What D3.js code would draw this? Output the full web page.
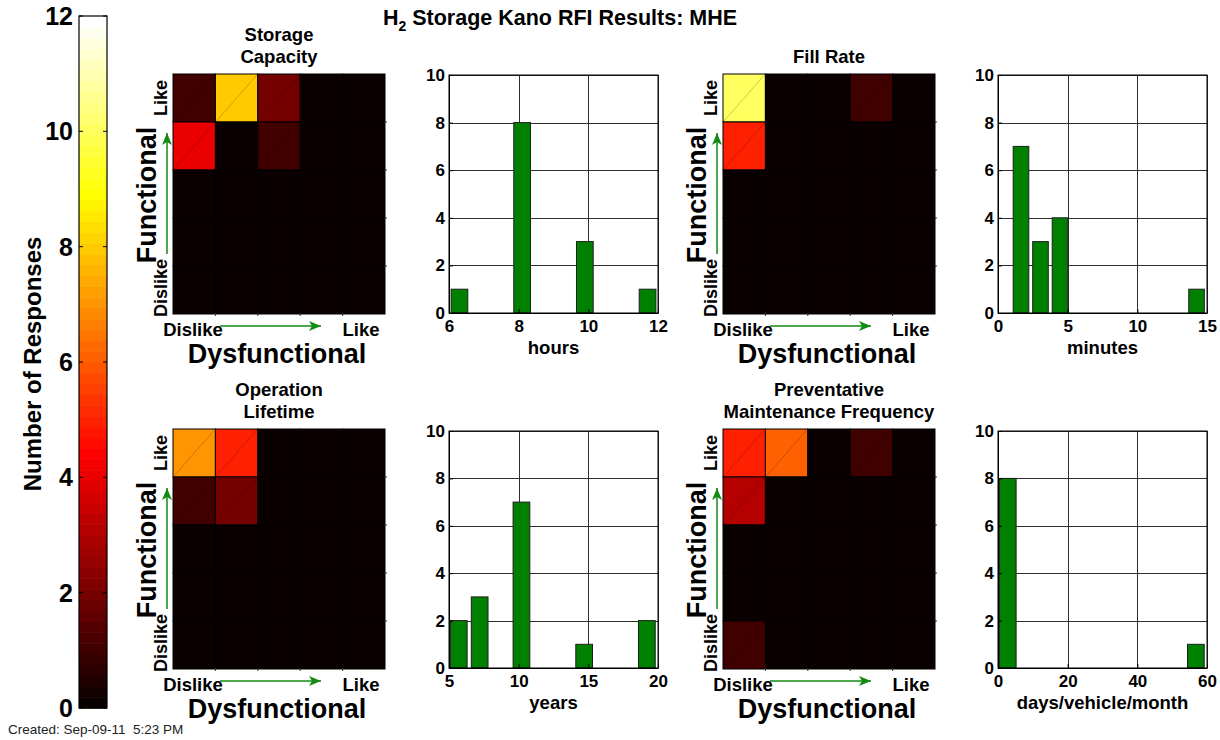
<!DOCTYPE html>
<html><head><meta charset="utf-8">
<script src="https://cdn.jsdelivr.net/npm/d3@7"></script>
<style>
body{margin:0;background:#fff;}
svg{font-family:"Liberation Sans",Arial,Helvetica,sans-serif;}
</style>
</head><body>
<svg id="chart" width="1220" height="740"></svg>
<script>
// ---------------- DATA ----------------
const functionalLevels = ["Like", "2", "3", "4", "Dislike"];      // rows, top -> bottom
const dysfunctionalLevels = ["Dislike", "2", "3", "4", "Like"];   // columns, left -> right

const storageCapacityGrid = [
  [1, 8, 2, 0, 0],
  [4, 0, 1, 0, 0],
  [0, 0, 0, 0, 0],
  [0, 0, 0, 0, 0],
  [0, 0, 0, 0, 0]
];
const fillRateGrid = [
  [10, 0, 0, 1, 0],
  [5, 0, 0, 0, 0],
  [0, 0, 0, 0, 0],
  [0, 0, 0, 0, 0],
  [0, 0, 0, 0, 0]
];
const operationLifetimeGrid = [
  [7, 5, 0, 0, 0],
  [1, 2, 0, 0, 0],
  [0, 0, 0, 0, 0],
  [0, 0, 0, 0, 0],
  [0, 0, 0, 0, 0]
];
const maintenanceFrequencyGrid = [
  [5, 6, 0, 1, 0],
  [3, 0, 0, 0, 0],
  [0, 0, 0, 0, 0],
  [0, 0, 0, 0, 0],
  [1, 0, 0, 0, 0]
];

const hoursBins   = [6.3, 6.9, 7.5, 8.1, 8.7, 9.3, 9.9, 10.5, 11.1, 11.7];
const hoursCounts = [1, 0, 0, 8, 0, 0, 3, 0, 0, 1];
const hoursTicks  = [6, 8, 10, 12];

const minutesBins   = [1.65, 3.05, 4.45, 5.85, 7.25, 8.65, 10.05, 11.45, 12.85, 14.25];
const minutesCounts = [7, 3, 4, 0, 0, 0, 0, 0, 0, 1];
const minutesTicks  = [0, 5, 10, 15];

const yearsBins   = [5.7, 7.2, 8.7, 10.2, 11.7, 13.2, 14.7, 16.2, 17.7, 19.2];
const yearsCounts = [2, 3, 0, 7, 0, 0, 1, 0, 0, 2];
const yearsTicks  = [5, 10, 15, 20];

const daysBins   = [2.8, 8.8, 14.8, 20.8, 26.8, 32.8, 38.8, 44.8, 50.8, 56.8];
const daysCounts = [8, 0, 0, 0, 0, 0, 0, 0, 0, 1];
const daysTicks  = [0, 20, 40, 60];

const countTicks = [0, 2, 4, 6, 8, 10];
const colorbarTicks = [0, 2, 4, 6, 8, 10, 12];
const colorMax = 12;

// ---------------- HELPERS ----------------
const svg = d3.select("#chart");
const FONT = "'Liberation Sans', Arial, Helvetica, sans-serif";

// MATLAB hot(64) colormap lookup, scaled to [0, colorMax]
function hotIndex(v) { return Math.max(0, Math.min(63, Math.floor(v / colorMax * 64))); }
function hotByIndex(k) {
  const r = k < 24 ? (k + 1) / 24 : 1;
  const g = k < 24 ? 0 : (k < 48 ? (k - 23) / 24 : 1);
  const b = k < 48 ? 0 : (k - 47) / 16;
  return d3.rgb(Math.round(r * 255), Math.round(g * 255), Math.round(b * 255));
}
function hotColor(v) { return hotByIndex(hotIndex(v)); }

const defs = svg.append("defs");
defs.append("marker").attr("id", "arrowG")
  .attr("viewBox", "0 0 12 10").attr("refX", 12).attr("refY", 5)
  .attr("markerUnits", "userSpaceOnUse").attr("markerWidth", 13).attr("markerHeight", 10)
  .attr("orient", "auto")
  .append("path").attr("d", "M0,0 L12,5 L0,10 L3,5 Z").attr("fill", "#138a13");

// ---------------- TITLE ----------------
const title = svg.append("text").attr("x", 560).attr("y", 25)
  .attr("text-anchor", "middle").attr("font-weight", "bold").attr("font-size", 21.5);
title.append("tspan").text("H");
title.append("tspan").attr("font-size", 14).attr("dy", 6).text("2");
title.append("tspan").attr("dy", -6).text(" Storage Kano RFI Results: MHE");

// ---------------- COLORBAR ----------------
const cb = { x: 79, w: 28, top: 16, bottom: 708 };
const cy = d3.scaleLinear().domain([0, colorMax]).range([cb.bottom, cb.top]);
const cbG = svg.append("g");
cbG.selectAll("rect.band").data(d3.range(64)).join("rect")
  .attr("x", cb.x).attr("width", cb.w)
  .attr("y", k => cy((k + 1) * colorMax / 64))
  .attr("height", k => cy(k * colorMax / 64) - cy((k + 1) * colorMax / 64) + 0.6)
  .attr("fill", k => hotByIndex(k));
cbG.append("rect").attr("x", cb.x).attr("y", cb.top).attr("width", cb.w)
  .attr("height", cb.bottom - cb.top).attr("fill", "none").attr("stroke", "#000").attr("stroke-width", 1.2);
cbG.selectAll("line.tl").data(colorbarTicks).join("line")
  .attr("x1", cb.x).attr("x2", cb.x + 4).attr("y1", d => cy(d)).attr("y2", d => cy(d)).attr("stroke", "#000");
cbG.selectAll("line.tr").data(colorbarTicks).join("line")
  .attr("x1", cb.x + cb.w - 4).attr("x2", cb.x + cb.w).attr("y1", d => cy(d)).attr("y2", d => cy(d)).attr("stroke", "#000");
cbG.selectAll("text.tk").data(colorbarTicks).join("text")
  .attr("x", 73).attr("y", d => cy(d)).attr("dy", "0.36em")
  .attr("text-anchor", "end").attr("font-weight", "bold").attr("font-size", 25).text(d => d);
svg.append("text").attr("transform", "translate(32,364) rotate(-90)")
  .attr("text-anchor", "middle").attr("dy", "0.36em")
  .attr("font-weight", "bold").attr("font-size", 24).text("Number of Responses");

svg.append("text").attr("x", 8).attr("y", 734).attr("font-size", 13.5).attr("fill", "#222")
  .text("Created: Sep-09-11\u00a0\u00a05:23 PM");

// ---------------- HEATMAP PANELS ----------------
function heatPanel(cfg) {
  const g = svg.append("g");
  const L = cfg.x, T = cfg.y;
  const xb = d3.scaleBand().domain(d3.range(dysfunctionalLevels.length)).range([L, L + cfg.w]);
  const yb = d3.scaleBand().domain(d3.range(functionalLevels.length)).range([T, T + cfg.h]);
  const cells = [];
  cfg.grid.forEach((row, r) => row.forEach((v, c) => cells.push({ r, c, v })));
  g.selectAll("rect.cell").data(cells).join("rect")
    .attr("x", d => xb(d.c)).attr("y", d => yb(d.r))
    .attr("width", xb.bandwidth()).attr("height", yb.bandwidth())
    .attr("fill", d => hotColor(d.v)).attr("stroke", "#000").attr("stroke-width", 1);
  g.selectAll("line.diag").data(cells.filter(d => d.v > 0)).join("line")
    .attr("x1", d => xb(d.c) + 1).attr("y1", d => yb(d.r) + yb.bandwidth() - 1)
    .attr("x2", d => xb(d.c) + xb.bandwidth() - 1).attr("y2", d => yb(d.r) + 1)
    .attr("stroke", d => hotColor(d.v).darker(1.2)).attr("stroke-width", 0.7).attr("opacity", 0.8);
  // small edge ticks
  g.selectAll("line.rt").data(d3.range(1, 5)).join("line")
    .attr("x1", L + cfg.w - 1).attr("x2", L + cfg.w + 2)
    .attr("y1", i => yb(i)).attr("y2", i => yb(i)).attr("stroke", "#333");
  g.selectAll("line.bt").data(d3.range(1, 5)).join("line")
    .attr("y1", T + cfg.h - 1).attr("y2", T + cfg.h + 2)
    .attr("x1", i => xb(i)).attr("x2", i => xb(i)).attr("stroke", "#333");
  // title
  const n = cfg.title.length;
  cfg.title.forEach((t, i) => {
    g.append("text").attr("x", L + cfg.w / 2).attr("y", T - 18 - (n - 1 - i) * 22)
      .attr("dy", "0.36em").attr("text-anchor", "middle")
      .attr("font-weight", "bold").attr("font-size", 18.5).text(t);
  });
  // axis labels
  g.append("text").attr("x", L + 20).attr("y", T + 255).attr("dy", "0.36em")
    .attr("text-anchor", "middle").attr("font-weight", "bold").attr("font-size", 18.5)
    .text(dysfunctionalLevels[0]);
  g.append("text").attr("x", L + 188).attr("y", T + 255).attr("dy", "0.36em")
    .attr("text-anchor", "middle").attr("font-weight", "bold").attr("font-size", 18.5)
    .text(dysfunctionalLevels[4]);
  g.append("text").attr("x", L + cfg.w / 2 - 2).attr("y", T + 279).attr("dy", "0.36em")
    .attr("text-anchor", "middle").attr("font-weight", "bold").attr("font-size", 27)
    .text("Dysfunctional");
  g.append("text").attr("transform", `translate(${L - 12},${T + 24}) rotate(-90)`)
    .attr("dy", "0.36em").attr("text-anchor", "middle").attr("font-weight", "bold")
    .attr("font-size", 18).text(functionalLevels[0]);
  g.append("text").attr("transform", `translate(${L - 12},${T + 214}) rotate(-90)`)
    .attr("dy", "0.36em").attr("text-anchor", "middle").attr("font-weight", "bold")
    .attr("font-size", 18).text(functionalLevels[4]);
  g.append("text").attr("transform", `translate(${L - 27},${T + 121}) rotate(-90)`)
    .attr("dy", "0.36em").attr("text-anchor", "middle").attr("font-weight", "bold")
    .attr("font-size", 27).text("Functional");
  // arrows
  g.append("line").attr("x1", L + 47).attr("x2", L + 148).attr("y1", T + 252).attr("y2", T + 252)
    .attr("stroke", "#138a13").attr("stroke-width", 1.5).attr("marker-end", "url(#arrowG)");
  g.append("line").attr("x1", L - 6).attr("x2", L - 6).attr("y1", T + 180).attr("y2", T + 59)
    .attr("stroke", "#138a13").attr("stroke-width", 1.5).attr("marker-end", "url(#arrowG)");
}

heatPanel({ title: ["Storage", "Capacity"], grid: storageCapacityGrid, x: 173, y: 74, w: 212, h: 240 });
heatPanel({ title: ["Fill Rate"], grid: fillRateGrid, x: 723, y: 74, w: 212, h: 240 });
heatPanel({ title: ["Operation", "Lifetime"], grid: operationLifetimeGrid, x: 173, y: 429, w: 212, h: 240 });
heatPanel({ title: ["Preventative", "Maintenance Frequency"], grid: maintenanceFrequencyGrid, x: 723, y: 429, w: 212, h: 240 });

// ---------------- HISTOGRAM PANELS ----------------
function barPanel(cfg) {
  const g = svg.append("g");
  const x = d3.scaleLinear().domain([cfg.ticks[0], cfg.ticks[cfg.ticks.length - 1]]).range([cfg.x, cfg.x + cfg.w]);
  const y = d3.scaleLinear().domain([0, 10]).range([cfg.y + cfg.h, cfg.y]);
  g.append("rect").attr("x", cfg.x).attr("y", cfg.y).attr("width", cfg.w).attr("height", cfg.h).attr("fill", "#fff");
  g.selectAll("line.gx").data(cfg.ticks).join("line")
    .attr("x1", d => Math.round(x(d)) + 0.5).attr("x2", d => Math.round(x(d)) + 0.5)
    .attr("y1", cfg.y).attr("y2", cfg.y + cfg.h)
    .attr("stroke", "#2e2e2e").attr("stroke-width", 1).attr("shape-rendering", "crispEdges");
  g.selectAll("line.gy").data(countTicks).join("line")
    .attr("y1", d => Math.round(y(d)) + 0.5).attr("y2", d => Math.round(y(d)) + 0.5)
    .attr("x1", cfg.x).attr("x2", cfg.x + cfg.w)
    .attr("stroke", "#2e2e2e").attr("stroke-width", 1).attr("shape-rendering", "crispEdges");
  const bw = (cfg.bins[1] - cfg.bins[0]) * 0.8;
  const data = cfg.bins.map((c, i) => ({ c, n: cfg.counts[i] })).filter(d => d.n > 0);
  g.selectAll("rect.bar").data(data).join("rect")
    .attr("x", d => x(d.c - bw / 2)).attr("width", d => x(d.c + bw / 2) - x(d.c - bw / 2))
    .attr("y", d => y(d.n)).attr("height", d => y(0) - y(d.n))
    .attr("fill", "#008000").attr("stroke", "#1e1e1e").attr("stroke-width", 1);
  const ax = g.append("g").attr("transform", `translate(0,${cfg.y + cfg.h})`)
    .call(d3.axisBottom(x).tickValues(cfg.ticks).tickFormat(d3.format("d"))
      .tickSizeInner(-4).tickSizeOuter(0).tickPadding(7));
  const ay = g.append("g").attr("transform", `translate(${cfg.x},0)`)
    .call(d3.axisLeft(y).tickValues(countTicks).tickFormat(d3.format("d"))
      .tickSizeInner(-4).tickSizeOuter(0).tickPadding(4));
  [ax, ay].forEach(a => {
    a.selectAll("text").attr("font-family", FONT).attr("font-size", 17).attr("font-weight", "bold").attr("fill", "#000");
    a.selectAll("path.domain").attr("stroke", "#000");
  });
  g.append("rect").attr("x", cfg.x).attr("y", cfg.y).attr("width", cfg.w).attr("height", cfg.h)
    .attr("fill", "none").attr("stroke", "#000").attr("stroke-width", 1);
  g.append("text").attr("x", cfg.x + cfg.w / 2).attr("y", cfg.y + cfg.h + 34).attr("dy", "0.36em")
    .attr("text-anchor", "middle").attr("font-weight", "bold").attr("font-size", 18.5).text(cfg.label);
}

barPanel({ bins: hoursBins, counts: hoursCounts, ticks: hoursTicks, label: "hours", x: 449, y: 75, w: 209, h: 238 });
barPanel({ bins: minutesBins, counts: minutesCounts, ticks: minutesTicks, label: "minutes", x: 998, y: 75, w: 209, h: 238 });
barPanel({ bins: yearsBins, counts: yearsCounts, ticks: yearsTicks, label: "years", x: 449, y: 431, w: 209, h: 237 });
barPanel({ bins: daysBins, counts: daysCounts, ticks: daysTicks, label: "days/vehicle/month", x: 998, y: 431, w: 209, h: 237 });
</script>
</body></html>
